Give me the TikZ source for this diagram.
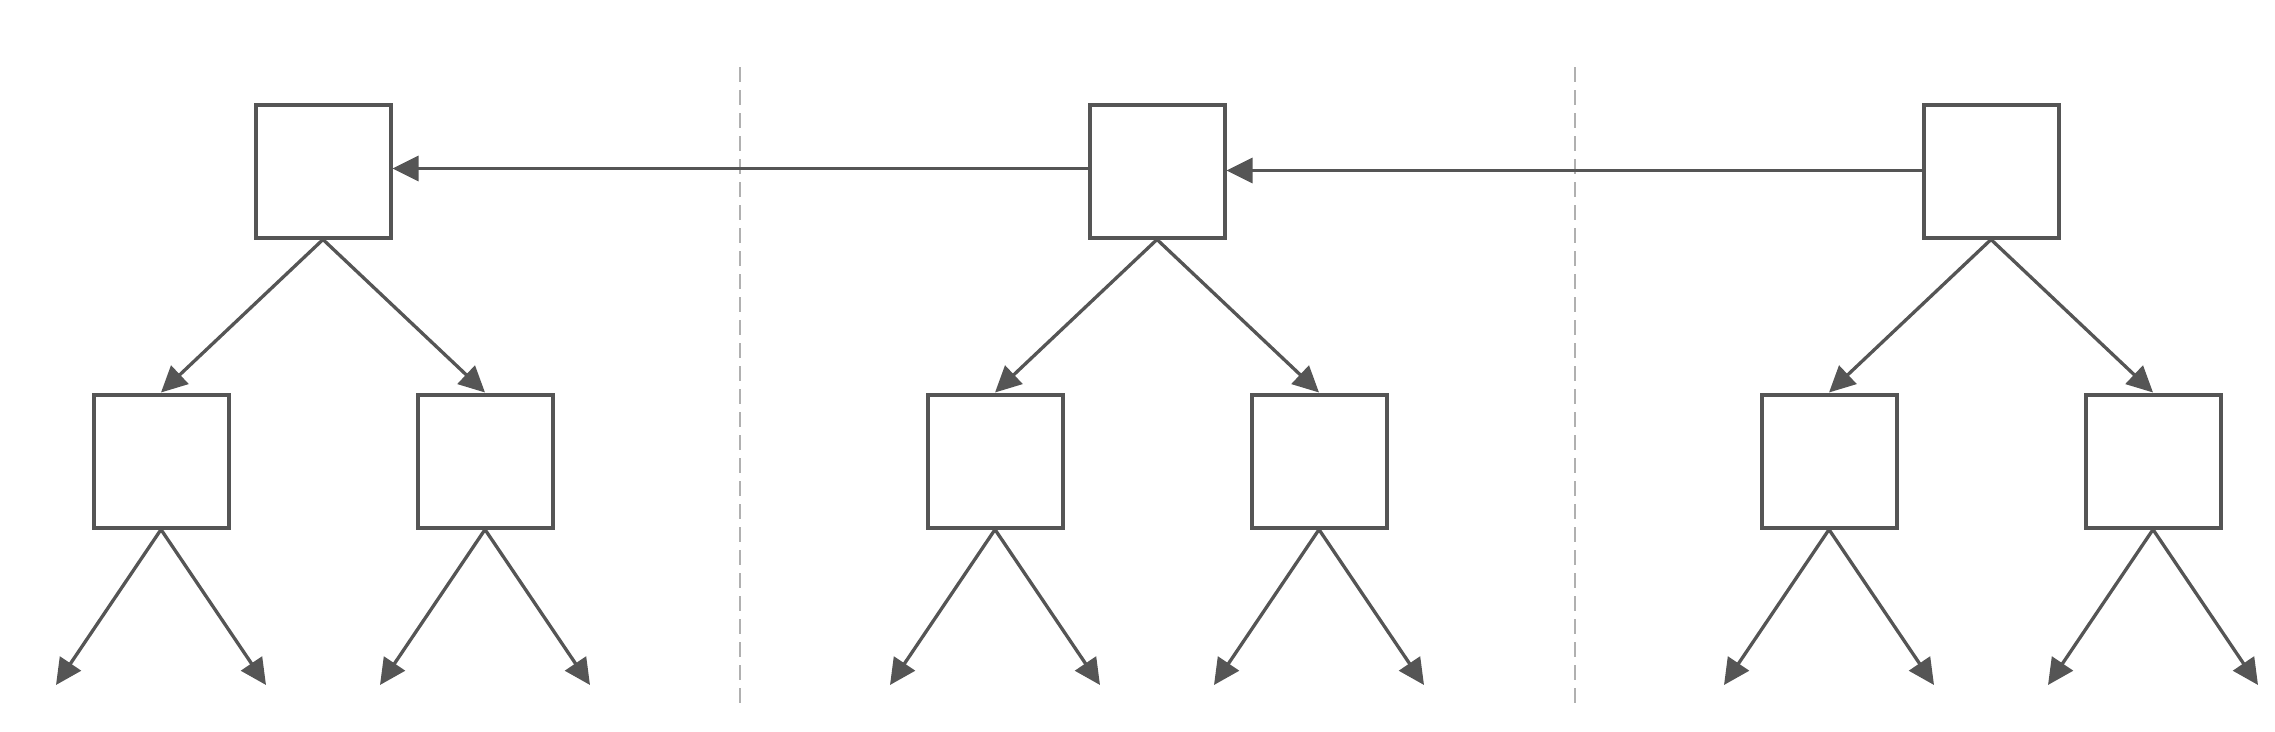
\documentclass[tikz,border=0pt]{standalone}
\usetikzlibrary{arrows.meta}
\definecolor{ink}{HTML}{555555}
\definecolor{sep}{HTML}{B0B0B0}
\begin{document}
\begin{tikzpicture}[x=1pt,y=-1pt,
  sq/.style={draw=ink,line width=4pt,rectangle,minimum width=135pt,minimum height=133pt,inner sep=0pt},
  conn/.style={draw=ink,line width=3.3pt,-{Triangle[length=26pt,width=25pt]}},
  divider/.style={draw=sep,line width=1.8pt,dash pattern=on 15pt off 8pt}]
\useasboundingbox (0,0) rectangle (2275,731);
% dividers
\coordinate (d1a) at (740,67);  \coordinate (d1b) at (740,708);
\coordinate (d2a) at (1575,67); \coordinate (d2b) at (1575,708);
\draw[divider] (d1a) -- (d1b);
\draw[divider] (d2a) -- (d2b);
% trees
\foreach \t/\cx in {1/323,2/1157,3/1991}{
  \node[sq] (T\t) at (\cx,171) {};
  \node[sq] (L\t) at (\cx-162,461) {};
  \node[sq] (R\t) at (\cx+162,461) {};
  \coordinate (LL\t) at (\cx-162-105,685);
  \coordinate (LR\t) at (\cx-162+105,685);
  \coordinate (RL\t) at (\cx+162-105,685);
  \coordinate (RR\t) at (\cx+162+105,685);
  \draw[conn] (T\t.south) -- (L\t.north);
  \draw[conn] (T\t.south) -- (R\t.north);
  \draw[conn] (L\t.south) -- (LL\t);
  \draw[conn] (L\t.south) -- (LR\t);
  \draw[conn] (R\t.south) -- (RL\t);
  \draw[conn] (R\t.south) -- (RR\t);
}
% horizontal links
\draw[conn] ([yshift=2.5pt]T2.west) -- ([yshift=2.5pt]T1.east);
\draw[conn] ([yshift=0.5pt]T3.west) -- ([yshift=0.5pt]T2.east);
\end{tikzpicture}
\end{document}
